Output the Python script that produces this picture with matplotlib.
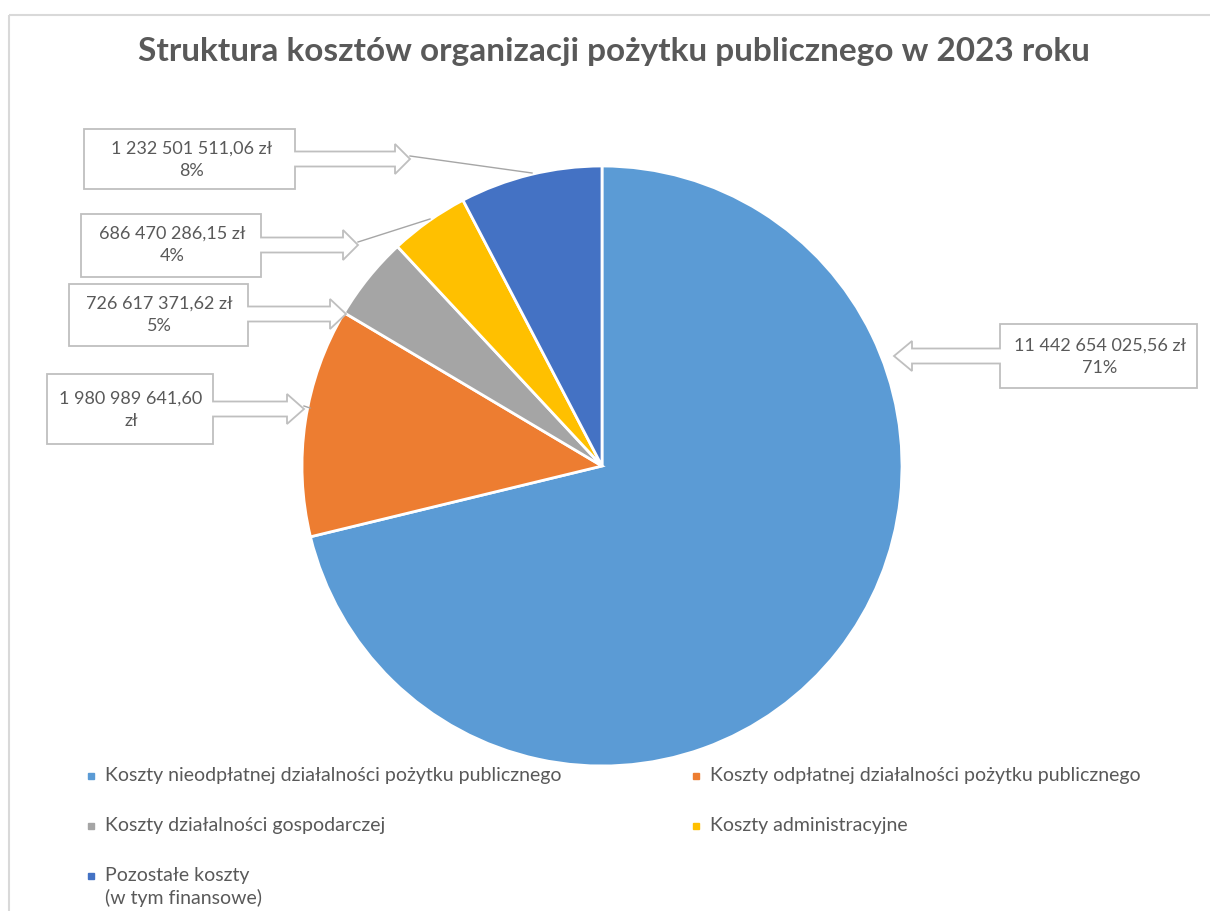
import matplotlib.pyplot as plt
from matplotlib.patches import Polygon

# dane
categories = [
    "Koszty nieodpłatnej działalności pożytku publicznego",
    "Koszty odpłatnej działalności pożytku publicznego",
    "Koszty działalności gospodarczej",
    "Koszty administracyjne",
    "Pozostałe koszty\n(w tym finansowe)",
]
values = [11442654025.56, 1980989641.60, 726617371.62, 686470286.15, 1232501511.06]
value_labels = [
    "11 442 654 025,56 zł\n71%",
    "1 980 989 641,60\nzł",
    "726 617 371,62 zł\n5%",
    "686 470 286,15 zł\n4%",
    "1 232 501 511,06 zł\n8%",
]
colors = ["#5B9BD5", "#ED7D31", "#A5A5A5", "#FFC000", "#4472C4"]
title = "Struktura kosztów organizacji pożytku publicznego w 2023 roku"

plt.rcParams['font.family'] = ['Lato', 'DejaVu Sans']
TXT = "#595959"
W, H = 1210, 911

fig = plt.figure(figsize=(W / 100, H / 100), dpi=100)
ax = fig.add_axes([0, 0, 1, 1])

# pie (os y odwrocona -> counterclock=True rysuje zgodnie z zegarem)
cx, cy, r = 602, 466, 300
ax.pie(values, colors=colors, startangle=-90, counterclock=True,
       center=(cx, cy), radius=r,
       wedgeprops=dict(edgecolor="white", linewidth=2))
ax.set_xlim(0, W)
ax.set_ylim(H, 0)
ax.set_aspect("equal")
ax.axis("off")

# ramka wykresu
ax.plot([9, W], [15, 15], color="#d9d9d9", lw=1.5, solid_capstyle="butt")
ax.plot([9, 9], [15, H], color="#d9d9d9", lw=1.5, solid_capstyle="butt")

ax.text(614, 52, title, ha="center", va="center", fontsize=24,
        fontweight="bold", color=TXT)


def callout(box, yc, shaft, head, base, tip, side="right"):
    x0, y0, x1, y1 = box
    if side == "right":
        pts = [(x0, y0), (x1, y0), (x1, yc - shaft), (base, yc - shaft),
               (base, yc - head), (tip, yc), (base, yc + head),
               (base, yc + shaft), (x1, yc + shaft), (x1, y1), (x0, y1)]
    else:
        pts = [(x1, y0), (x0, y0), (x0, yc - shaft), (base, yc - shaft),
               (base, yc - head), (tip, yc), (base, yc + head),
               (base, yc + shaft), (x0, yc + shaft), (x0, y1), (x1, y1)]
    ax.add_patch(Polygon(pts, closed=True, facecolor="white",
                         edgecolor="#bfbfbf", lw=1.3, zorder=3))


# [box, yc, tip, base, side, text center, leader end]
callouts = [
    ((1000, 324, 1197, 388), 356, 894, 912, "left", (1100, 357), None),
    ((47, 374, 213, 444), 409, 304, 287, "right", (131, 410), (310, 408)),
    ((69, 284, 248, 346), 314, 346, 330, "right", (159, 315), None),
    ((81, 214, 261, 277), 245, 358, 343, "right", (172, 245), (430, 219)),
    ((84, 129, 295, 189), 159, 410, 395, "right", (192, 160), (532, 173)),
]
for lab, (box, yc, tip, base, side, tpos, lead) in zip(value_labels, callouts):
    callout(box, yc, 7.5, 15, base, tip, side)
    if lead is not None:
        ax.plot([tip, lead[0]], [yc - 3, lead[1]], color="#a6a6a6", lw=1, zorder=2)
    ax.text(tpos[0], tpos[1], lab, ha="center", va="center", fontsize=13,
            color=TXT, linespacing=1.5, zorder=4)

# legenda
leg_pos = [(91, 776), (696, 776), (91, 826), (696, 826), (91, 876)]
for lab, col, (lx, ly) in zip(categories, colors, leg_pos):
    ax.plot(lx, ly, marker="s", markersize=5, color=col, lw=0)
    for i, line in enumerate(lab.split("\n")):
        ax.text(lx + 14, ly + i * 22, line, ha="left", va="center",
                fontsize=14, color=TXT)

fig.savefig("out.png", dpi=100)
